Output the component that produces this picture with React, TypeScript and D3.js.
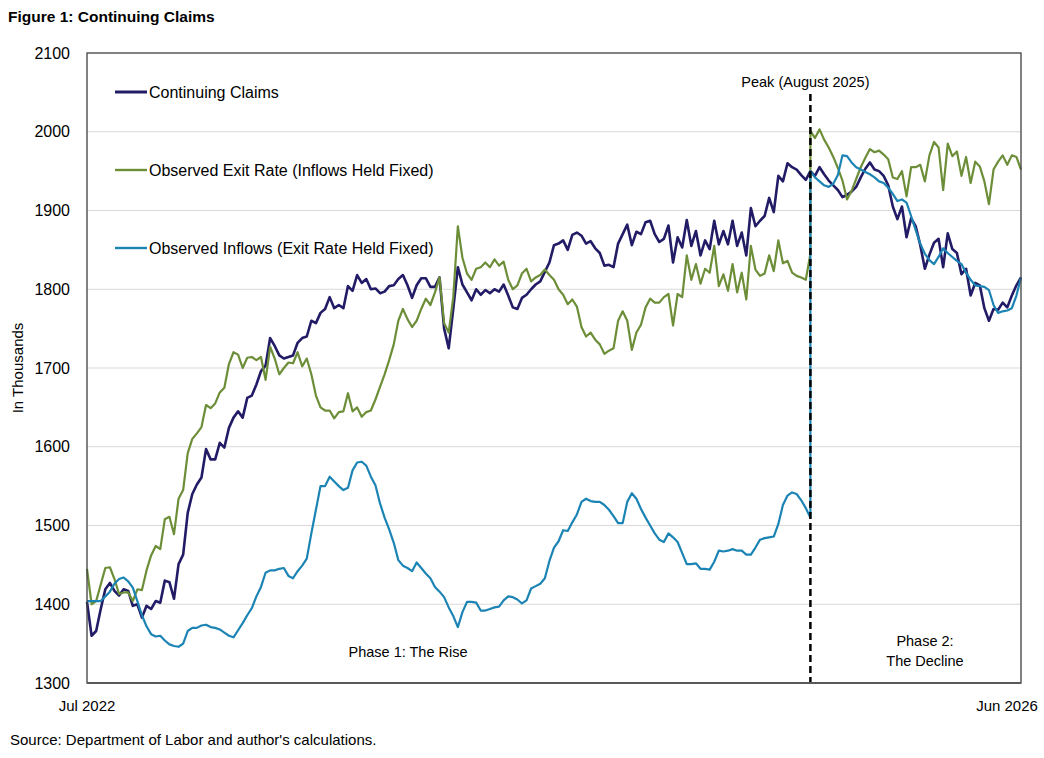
import React from 'react'
import * as d3 from 'd3'

// weekly continuing claims, thousands, Jul 2022 - Jun 2026
const claims = [
  1403, 1360, 1366, 1394, 1419, 1427, 1417, 1411, 1419, 1417,
  1398, 1400, 1383, 1398, 1394, 1404, 1402, 1430, 1428, 1407,
  1451, 1463, 1516, 1540, 1552, 1561, 1597, 1584, 1584, 1605,
  1599, 1624, 1637, 1645, 1637, 1662, 1665, 1679, 1696, 1703,
  1738, 1728, 1716, 1712, 1714, 1716, 1732, 1738, 1740, 1760,
  1757, 1770, 1775, 1790, 1776, 1780, 1776, 1804, 1798, 1818,
  1808, 1813, 1800, 1801, 1795, 1797, 1804, 1805, 1813, 1818,
  1805, 1789, 1805, 1814, 1814, 1803, 1803, 1815, 1750, 1725,
  1775, 1828, 1806, 1796, 1786, 1800, 1793, 1799, 1795, 1800,
  1797, 1806, 1792, 1777, 1775, 1789, 1793, 1800, 1806, 1810,
  1822, 1834, 1856, 1858, 1862, 1850, 1869, 1872, 1868, 1858,
  1861, 1852, 1846, 1830, 1831, 1828, 1858, 1870, 1882, 1856,
  1873, 1870, 1885, 1887, 1870, 1860, 1864, 1881, 1834, 1866,
  1853, 1888, 1855, 1874, 1843, 1862, 1851, 1887, 1857, 1874,
  1857, 1887, 1855, 1872, 1843, 1903, 1880, 1887, 1893, 1916,
  1898, 1944, 1937, 1960, 1955, 1952, 1945, 1939, 1950, 1944,
  1955, 1946, 1938, 1932, 1926, 1917, 1920, 1924, 1930, 1942,
  1953, 1961, 1952, 1950, 1944, 1932, 1905, 1889, 1905, 1866,
  1890, 1880, 1856, 1826, 1844, 1859, 1864, 1828, 1871, 1851,
  1846, 1819, 1826, 1792, 1808, 1805, 1776, 1760, 1775, 1774,
  1783, 1777, 1792, 1805, 1815
]

// counterfactual: observed exit rate, inflows held fixed (up to the peak week)
const exitRateRise = [
  1445, 1400, 1404, 1425, 1446, 1447, 1432, 1413, 1415, 1415,
  1404, 1419, 1418, 1443, 1462, 1474, 1470, 1508, 1511, 1489,
  1534, 1545, 1592, 1610, 1617, 1625, 1653, 1649, 1655, 1669,
  1675, 1705, 1720, 1717, 1700, 1713, 1714, 1710, 1714, 1685,
  1727, 1712, 1692, 1700, 1707, 1706, 1720, 1702, 1712, 1692,
  1665, 1650, 1646, 1646, 1636, 1644, 1645, 1668, 1645, 1650,
  1638, 1644, 1646, 1660, 1676, 1692, 1710, 1730, 1760, 1775,
  1762, 1752, 1760, 1775, 1788, 1780, 1796, 1815, 1757, 1745,
  1790, 1880, 1840, 1820, 1812, 1826, 1828, 1834, 1828, 1838,
  1830, 1835, 1812, 1800, 1805, 1820, 1826, 1810, 1815, 1818,
  1825, 1818, 1812, 1800, 1793, 1781, 1787, 1778, 1752, 1740,
  1745, 1736, 1730, 1718, 1722, 1725, 1760, 1772, 1760, 1723,
  1745, 1755, 1777, 1788, 1783, 1783, 1790, 1794, 1754, 1794,
  1790, 1843, 1812, 1832, 1807, 1826, 1821, 1855, 1804, 1819,
  1798, 1832, 1796, 1821, 1787, 1855, 1825, 1817, 1820, 1843,
  1823, 1862, 1833, 1836, 1821, 1817, 1815, 1812, 1845
]

// same counterfactual, restarted from the peak week
const exitRateDecline = [
  2001, 1992, 2003, 1990, 1980, 1968, 1954, 1938, 1914, 1925,
  1940, 1955, 1967, 1978, 1974, 1976, 1971, 1965, 1942, 1940,
  1950, 1918, 1955, 1955, 1958, 1937, 1970, 1987, 1980, 1926,
  1985, 1969, 1975, 1944, 1968, 1935, 1962, 1956, 1937, 1908,
  1952, 1962, 1970, 1958, 1970, 1968, 1952
]

// counterfactual: observed inflows, exit rate held fixed
const inflowsRise = [
  1404, 1404, 1404, 1404, 1410, 1416, 1426, 1432, 1434, 1429,
  1421, 1404, 1386, 1372, 1362, 1359, 1360, 1354, 1349, 1347,
  1346, 1350, 1366, 1370, 1370, 1373, 1374, 1371, 1370, 1368,
  1364, 1360, 1358, 1367, 1376, 1386, 1395, 1410, 1422, 1440,
  1443, 1443, 1445, 1446, 1436, 1433, 1442, 1449, 1458, 1490,
  1520, 1550, 1550, 1562, 1556, 1550, 1545, 1548, 1570, 1580,
  1581, 1576, 1562, 1551, 1528, 1510, 1495, 1478, 1456, 1449,
  1446, 1442, 1453, 1446, 1439, 1433, 1422, 1416, 1409, 1396,
  1385, 1371, 1390, 1403, 1403, 1402, 1392, 1392, 1394, 1396,
  1397, 1405, 1410, 1409, 1406, 1401, 1405, 1420, 1423, 1426,
  1433, 1455, 1472, 1480, 1494, 1493, 1504, 1514, 1530, 1534,
  1531, 1530, 1530, 1526, 1520, 1512, 1503, 1503, 1530, 1541,
  1534, 1521, 1510, 1500, 1490, 1482, 1479, 1490, 1485, 1479,
  1465, 1451, 1451, 1452, 1445, 1445, 1444, 1454, 1468, 1467,
  1468, 1470, 1468, 1468, 1463, 1463, 1472, 1482, 1484, 1485,
  1486, 1502, 1526, 1538, 1542, 1540, 1532, 1522, 1510
]

const inflowsDecline = [
  1950, 1942, 1937, 1932, 1930, 1934, 1945, 1970, 1969, 1961,
  1955, 1952, 1949, 1946, 1942, 1937, 1935, 1929, 1921, 1912,
  1914, 1910, 1893, 1875, 1858, 1845, 1837, 1832, 1841, 1852,
  1846, 1841, 1836, 1832, 1821, 1812, 1805, 1804, 1803, 1799,
  1780, 1770, 1772, 1773, 1776, 1792, 1815
]

const yTicks = [1300, 1400, 1500, 1600, 1700, 1800, 1900, 2000, 2100]
const xTickLabels = ['Jul 2022', 'Jun 2026']

const seriesNames = [
  'Continuing Claims',
  'Observed Exit Rate (Inflows Held Fixed)',
  'Observed Inflows (Exit Rate Held Fixed)'
]
const colors = ['#221b66', '#6d8e38', '#1c84b4']

const W = 1044
const H = 758
const plot = { left: 87, right: 1021, top: 53, bottom: 683 }
const FONT = "'Liberation Sans', Arial, sans-serif"

type Pt = [number, number]

const App = () => {
  const x = d3.scaleLinear().domain([0, claims.length - 1]).range([plot.left, plot.right])
  const y = d3.scaleLinear().domain([1300, 2100]).range([plot.bottom, plot.top])
  const peak = exitRateRise.length - 1

  const line = d3
    .line<Pt>()
    .x(d => x(d[0]))
    .y(d => y(d[1]))

  const pts = (vals: number[], start: number): Pt[] => vals.map((v, i) => [start + i, v])

  const paths = [
    pts(claims, 0),
    [...pts(exitRateRise, 0), ...pts(exitRateDecline, peak)],
    [...pts(inflowsRise, 0), ...pts(inflowsDecline, peak)]
  ]
  const widths = [2.6, 2.2, 2.2]

  return (
    <svg
      width={W}
      height={H}
      style={{ position: 'absolute', left: 0, top: 0, background: '#fff' }}
      fontFamily={FONT}
    >
      <text x={8} y={22} fontSize={15.5} fontWeight="bold" fill="#000">
        Figure 1: Continuing Claims
      </text>

      {/* gridlines */}
      {yTicks.slice(1, -1).map(t => (
        <line key={t} x1={plot.left} x2={plot.right} y1={y(t)} y2={y(t)} stroke="#d9d9d9" strokeWidth={1} />
      ))}

      {/* y tick labels */}
      {yTicks.map(t => (
        <text key={t} x={70} y={y(t)} dy="0.35em" textAnchor="end" fontSize={16} fill="#000">
          {t}
        </text>
      ))}

      <text
        transform={`translate(18,${(plot.top + plot.bottom) / 2}) rotate(-90)`}
        textAnchor="middle"
        dy="0.35em"
        fontSize={15}
        fill="#000"
      >
        In Thousands
      </text>

      {/* x labels */}
      <text x={87} y={711} textAnchor="middle" fontSize={15} fill="#000">
        {xTickLabels[0]}
      </text>
      <text x={1007} y={711} textAnchor="middle" fontSize={15} fill="#000">
        {xTickLabels[1]}
      </text>

      {/* series */}
      {paths.map((p, i) => (
        <path key={i} d={line(p) || ''} fill="none" stroke={colors[i]} strokeWidth={widths[i]} strokeLinejoin="round" />
      ))}

      {/* peak marker */}
      <line
        x1={x(peak)}
        x2={x(peak)}
        y1={94}
        y2={plot.bottom}
        stroke="#000"
        strokeWidth={2.5}
        strokeDasharray="7,4"
      />
      <text x={x(peak) - 5} y={82} dy="0.35em" textAnchor="middle" fontSize={14.5} fill="#000">
        Peak (August 2025)
      </text>

      <text x={408} y={652} dy="0.35em" textAnchor="middle" fontSize={14.5} fill="#000">
        Phase 1: The Rise
      </text>
      <text x={925} y={641} dy="0.35em" textAnchor="middle" fontSize={14.5} fill="#000">
        Phase 2:
      </text>
      <text x={925} y={661} dy="0.35em" textAnchor="middle" fontSize={14.5} fill="#000">
        The Decline
      </text>

      {/* legend */}
      {seriesNames.map((name, i) => (
        <g key={name} transform={`translate(115,${92 + i * 78})`}>
          <line x1={0} x2={32} y1={0} y2={0} stroke={colors[i]} strokeWidth={i === 0 ? 3 : 2.4} />
          <text x={34} y={0} dy="0.35em" fontSize={16} fill="#000">
            {name}
          </text>
        </g>
      ))}

      {/* plot frame */}
      <rect
        x={plot.left}
        y={plot.top}
        width={plot.right - plot.left}
        height={plot.bottom - plot.top}
        fill="none"
        stroke="#404040"
        strokeWidth={1.3}
      />
      <line x1={plot.left} x2={plot.right} y1={plot.bottom} y2={plot.bottom} stroke="#595959" strokeWidth={2} />

      <text x={10} y={740} dy="0.35em" fontSize={15} fill="#000">
        Source: Department of Labor and author's calculations.
      </text>
    </svg>
  )
}

export default App
